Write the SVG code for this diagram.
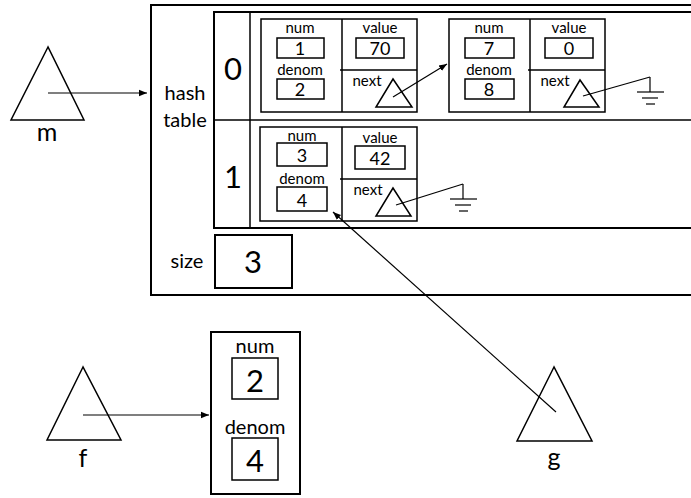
<svg xmlns="http://www.w3.org/2000/svg" width="691" height="498" viewBox="0 0 691 498">
  <style>
    text { font-family: Lato, "Open Sans", "Liberation Sans", sans-serif; fill: #000; text-anchor: middle; }
    .thick { fill: #fff; stroke: #000; stroke-width: 2; }
    .box { fill: none; stroke: #000; stroke-width: 1.5; }
    .ln { stroke: #000; stroke-width: 1.5; fill: none; }
    .ptr { stroke: #000; stroke-width: 1.2; fill: none; }
    .lbl { font-size: 15px; }
    .val { font-size: 18px; }
    .big { font-size: 31px; }
    .mid { font-size: 20px; }
    .var { font-size: 25px; }
  </style>
  <defs>
    <marker id="arrow" viewBox="0 0 10 10" refX="10" refY="5" markerWidth="8" markerHeight="8" markerUnits="userSpaceOnUse" orient="auto">
      <path d="M0,1 L10,5 L0,9 Z" fill="#000"/>
    </marker>
    <g id="ground">
      <line x1="0" y1="0" x2="0" y2="15" class="ptr"/>
      <line x1="-13" y1="15" x2="14" y2="15" class="ptr"/>
      <line x1="-8" y1="21" x2="8" y2="21" class="ptr"/>
      <line x1="-4" y1="27" x2="5" y2="27" class="ptr"/>
    </g>
  </defs>

  <!-- hash map object -->
  <g id="map">
    <rect x="151" y="5" width="560" height="290" class="thick"/>
    <text x="185" y="100" class="mid">hash</text>
    <text x="185" y="127" class="mid">table</text>
    <rect x="214" y="12" width="497" height="216" class="thick"/>
    <line x1="250" y1="12" x2="250" y2="228" class="ln" stroke-width="2"/>
    <line x1="214" y1="120" x2="691" y2="120" class="ln" stroke-width="2"/>
    <text x="233" y="80" class="big">0</text>
    <text x="233" y="188" class="big">1</text>
    <text x="187" y="268" class="mid">size</text>
    <rect x="215" y="235" width="77" height="53" class="thick"/>
    <text x="253" y="273" class="big">3</text>
  </g>

  <!-- bucket 0, first entry -->
  <g id="entry-1-70">
    <rect x="261" y="19" width="156" height="93" class="box"/>
    <line x1="342" y1="19" x2="342" y2="112" class="ln"/>
    <line x1="340" y1="70" x2="417" y2="70" class="ln"/>
    <text x="300" y="33" class="lbl">num</text>
    <rect x="277" y="38" width="47" height="20" class="box"/>
    <text x="300" y="55" class="val">1</text>
    <text x="300" y="75" class="lbl">denom</text>
    <rect x="277" y="79" width="47" height="20" class="box"/>
    <text x="300" y="96" class="val">2</text>
    <text x="380" y="33" class="lbl">value</text>
    <rect x="356" y="38" width="48" height="20" class="box"/>
    <text x="380" y="55" class="val">70</text>
    <text x="367" y="86" class="lbl">next</text>
    <polygon points="393,79 376,107 412,107" class="box"/>
  </g>

  <!-- bucket 0, second entry -->
  <g id="entry-7-0">
    <rect x="449" y="19" width="156" height="93" class="box"/>
    <line x1="530" y1="19" x2="530" y2="112" class="ln"/>
    <line x1="528" y1="70" x2="605" y2="70" class="ln"/>
    <text x="489" y="33" class="lbl">num</text>
    <rect x="465" y="38" width="49" height="20" class="box"/>
    <text x="489" y="55" class="val">7</text>
    <text x="489" y="75" class="lbl">denom</text>
    <rect x="465" y="79" width="49" height="20" class="box"/>
    <text x="489" y="96" class="val">8</text>
    <text x="569" y="33" class="lbl">value</text>
    <rect x="545" y="38" width="48" height="20" class="box"/>
    <text x="569" y="55" class="val">0</text>
    <text x="555" y="86" class="lbl">next</text>
    <polygon points="580,80 564,107 599,107" class="box"/>
  </g>

  <!-- bucket 1 entry -->
  <g id="entry-3-42">
    <rect x="260" y="127" width="157" height="94" class="box"/>
    <line x1="342" y1="127" x2="342" y2="221" class="ln"/>
    <line x1="340" y1="179" x2="417" y2="179" class="ln"/>
    <text x="302" y="141" class="lbl">num</text>
    <rect x="277" y="143" width="50" height="23" class="box"/>
    <text x="302" y="162" class="val">3</text>
    <text x="302" y="184" class="lbl">denom</text>
    <rect x="277" y="187" width="50" height="24" class="box"/>
    <text x="302" y="207" class="val">4</text>
    <text x="380" y="143" class="lbl">value</text>
    <rect x="355" y="146" width="50" height="23" class="box"/>
    <text x="380" y="165" class="val">42</text>
    <text x="368" y="195" class="lbl">next</text>
    <polygon points="393,188 376,216 411,216" class="box"/>
  </g>

  <!-- fraction object pointed to by f -->
  <g id="fraction">
    <rect x="211" y="332" width="89" height="162" class="thick"/>
    <text x="255" y="353" class="mid">num</text>
    <rect x="232" y="358" width="46" height="41" class="box"/>
    <text x="255" y="392" class="big">2</text>
    <text x="255" y="434" class="mid">denom</text>
    <rect x="232" y="438" width="46" height="42" class="box"/>
    <text x="255" y="472" class="big">4</text>
  </g>

  <!-- reference variables -->
  <g id="var-m">
    <polygon points="48,47 11,120 84,120" class="box"/>
    <text x="47" y="141" class="var">m</text>
  </g>
  <g id="var-f">
    <polygon points="83,367 47,440 121,440" class="box"/>
    <text x="83" y="467" class="var">f</text>
  </g>
  <g id="var-g">
    <polygon points="554,367 517,441 592,441" class="box"/>
    <text x="554" y="466" class="var">g</text>
  </g>

  <!-- connectors -->
  <g id="connectors">
    <line x1="48" y1="93" x2="147" y2="93" class="ptr" marker-end="url(#arrow)"/>
    <line x1="83" y1="415" x2="209" y2="415" class="ptr" marker-end="url(#arrow)"/>
    <line x1="556" y1="412" x2="333" y2="212" class="ptr" marker-end="url(#arrow)"/>
    <line x1="393" y1="97" x2="447" y2="64" class="ptr" marker-end="url(#arrow)"/>
    <line x1="583" y1="96" x2="650" y2="77" class="ptr"/>
    <use href="#ground" x="650" y="77"/>
    <line x1="396" y1="205" x2="463" y2="184" class="ptr"/>
    <use href="#ground" x="463" y="184"/>
  </g>
</svg>
